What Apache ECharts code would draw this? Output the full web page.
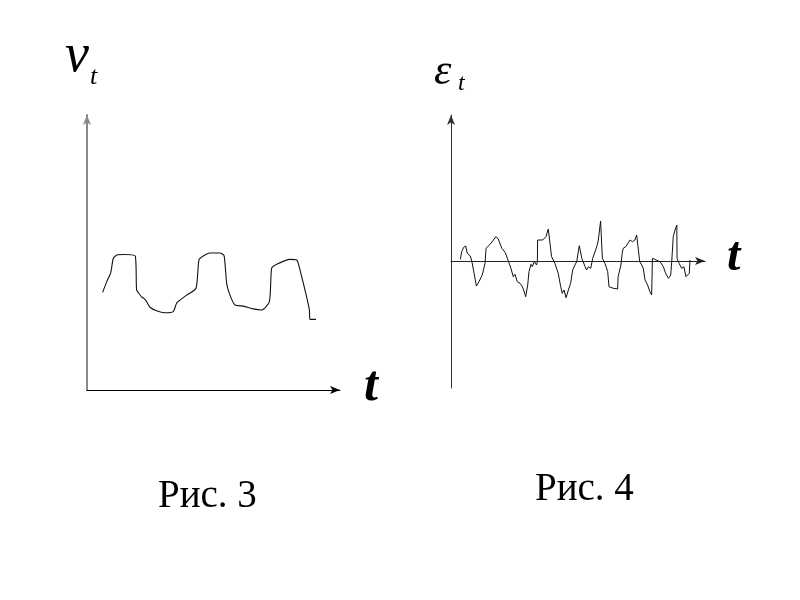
<!DOCTYPE html>
<html><head><meta charset="utf-8">
<script src="https://cdn.jsdelivr.net/npm/echarts@6/dist/echarts.min.js"></script>
<style>html,body{margin:0;padding:0;background:#fff}#c{width:800px;height:600px}</style>
</head><body><div id="c"></div>
<script>
// Fig. 3: v_t over t
const tV = [6.2,7.8,9.4,10.4,12.0,14.3,19.1,19.6,20.6,21.6,22.6,23.6,24.9,27.5,30.8,34.1,35.5,39.4,43.1,44.3,46.6,48.6,52.6,54.2,55.2,56.5,58.5,61.8,65.7,69.1,72.1,73.0,75.0,80.2,82.9,84.2,86.8,87.9,88.1,90.5];
const vVal = [35.5,39.4,42.7,47.9,49.2,49.3,48.7,36.4,35.0,33.9,33.2,32.1,30.1,28.8,28.1,28.5,31.7,34.5,37.0,47.5,49.1,49.8,49.8,48.8,38.8,34.5,30.9,30.5,29.5,29.1,32.1,44.3,45.7,47.5,47.3,43.6,33.9,29.1,25.7,25.7];
// Fig. 4: eps_t over t
const tE = [3.7,4.2,5.0,5.8,6.4,7.5,8.1,9.1,10.0,11.0,12.3,13.4,13.8,14.4,15.4,16.7,17.7,18.6,20.0,21.3,22.3,23.6,24.5,25.2,26.1,27.2,28.1,28.6,29.4,30.2,30.7,31.5,32.0,32.8,33.1,33.7,34.0,34.1,34.8,36.1,37.4,38.3,39.0,39.6,40.9,42.2,43.2,43.8,44.5,45.3,46.2,47.1,47.9,48.8,49.5,50.5,51.5,52.1,52.8,53.4,54.1,55.0,55.8,56.7,57.4,58.0,58.4,58.9,59.6,60.6,61.7,62.2,63.9,65.6,65.8,66.9,67.4,67.8,68.8,69.4,70.5,71.4,72.4,73.1,73.7,74.3,75.1,75.7,76.4,77.4,78.3,79.0,79.3,80.0,82.3,83.6,84.5,85.6,86.5,86.9,87.5,88.2,88.9,89.0,89.8,90.8,91.7,92.5,93.2,93.8,94.1];
const eVal = [0.17,0.93,1.37,1.5,0.77,0.53,0.1,-1.23,-2.5,-2.07,-1.4,-0.23,1.27,1.1,1.67,2.1,2.43,2.2,1.27,0.87,0.2,-0.73,-1.57,-1.33,-2.07,-2.23,-2.57,-2.9,-3.57,-2.4,-1.07,-0.33,-0.57,-0.07,-0.23,-0.4,-0.07,2.1,2.27,2.1,2.43,3.2,3.1,0.43,-0.23,-1.23,-2.57,-3.23,-2.9,-3.67,-2.9,-2.23,-0.9,-0.4,-0.07,1.53,0.27,0.1,-0.57,-0.9,-0.57,-0.73,0.27,0.93,1.43,2.1,1.93,4.0,0.27,-0.23,-1.07,-2.57,-2.73,-2.8,-1.57,-0.4,0.77,1.27,1.43,1.6,2.1,1.93,2.1,2.6,2.43,-0.07,-0.4,-0.73,-1.9,-2.4,-3.07,-3.4,0.27,0.33,-0.07,-0.57,-1.23,-1.73,-1.4,-0.07,2.43,3.1,3.6,0.27,-0.23,-0.73,-0.57,-1.57,-1.73,-1.23,0.1];
const captions = ['Рис. 3', 'Рис. 4'];

const zip = (a, b) => a.map((x, i) => [x, b[i]]);
const chart = echarts.init(document.getElementById('c'));
const hidden = {axisTick:{show:false}, axisLabel:{show:false}, splitLine:{show:false}};
const serif = '"Liberation Serif","DejaVu Serif",serif';
chart.setOption({
  animation:false,
  grid:[
    {left:87, top:115, width:253, height:275},
    {left:451, top:115, width:254, height:273}
  ],
  xAxis:[
    Object.assign({type:'value', gridIndex:0, min:0, max:100,
      axisLine:{show:true, lineStyle:{color:'#000', width:1}, symbol:['none','arrow'], symbolSize:[6,10]}}, hidden),
    Object.assign({type:'value', gridIndex:1, min:0, max:100,
      axisLine:{show:true, onZero:true, lineStyle:{color:'#222', width:1}, symbol:['none','arrow'], symbolSize:[6,10]}}, hidden)
  ],
  yAxis:[
    Object.assign({type:'value', gridIndex:0, min:0, max:100,
      axisLine:{show:true, lineStyle:{color:'#8a8a8a', width:2}, symbol:['none','arrow'], symbolSize:[6,10]}}, hidden),
    Object.assign({type:'value', gridIndex:1, min:-12.7, max:14.6,
      axisLine:{show:true, onZero:false, lineStyle:{color:'#333', width:1}, symbol:['none','arrow'], symbolSize:[6,10]}}, hidden)
  ],
  series:[
    {type:'line', xAxisIndex:0, yAxisIndex:0, data:zip(tV, vVal), showSymbol:false, smooth:0.2,
      lineStyle:{color:'#111', width:1.1}},
    {type:'line', xAxisIndex:1, yAxisIndex:1, data:zip(tE, eVal), showSymbol:false,
      lineStyle:{color:'#111', width:1}}
  ],
  graphic:[
    {type:'text', left:65, top:30, style:{text:'v', font:'italic 54px '+serif, fill:'#000'}},
    {type:'text', left:90, top:64, style:{text:'t', font:'italic 26px '+serif, fill:'#000'}},
    {type:'text', left:434, top:50, style:{text:'ε', font:'italic 44px '+serif, fill:'#000'}},
    {type:'text', left:458, top:72, style:{text:'t', font:'italic 24px '+serif, fill:'#000'}},
    {type:'text', left:364, top:362, style:{text:'t', font:'italic bold 50px '+serif, fill:'#000'}},
    {type:'text', left:727, top:234, style:{text:'t', font:'italic bold 48px '+serif, fill:'#000'}},
    {type:'text', left:158, top:477, style:{text:captions[0], font:'39px '+serif, fill:'#000'}},
    {type:'text', left:535, top:470, style:{text:captions[1], font:'39px '+serif, fill:'#000'}}
  ]
});
</script></body></html>
